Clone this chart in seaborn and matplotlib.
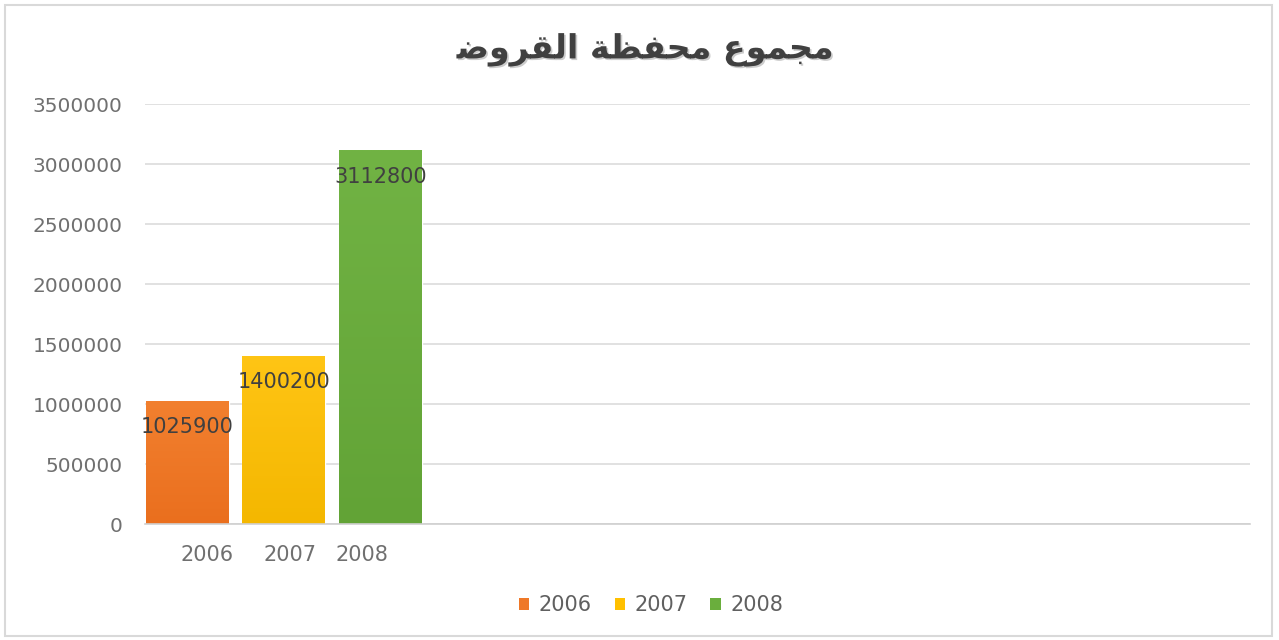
import numpy as np
import pandas as pd
import matplotlib
matplotlib.use("Agg")
import matplotlib.pyplot as plt
import seaborn as sns
from matplotlib import patheffects
from matplotlib.colors import LinearSegmentedColormap
from matplotlib.patches import Rectangle

# ---- data ----
years = ["2006", "2007", "2008"]
values = [1025900, 1400200, 3112800]
yticks = [0, 500000, 1000000, 1500000, 2000000, 2500000, 3000000, 3500000]
# visual-order (pre-shaped) Arabic title: "مجموع محفظة القروض"
title = "\uFEBF\uFEED\uFEAE\uFED8\uFEDF\uFE8D \uFE94\uFEC8\uFED4\uFEA4\uFEE3 \uFEC9\uFEEE\uFEE4\uFEA0\uFEE3"

# ---- styles ----
base_colors = ["#EF7828", "#FFC000", "#6AAE3D"]
top_colors = ["#F2802F", "#FFC515", "#71B344"]
bottom_colors = ["#EA6F1E", "#F4B700", "#62A336"]
tick_offsets = [0.2, 1.06, 1.81]

sns.set_theme(style="white")
plt.rcParams['font.family'] = ['DejaVu Sans']

fig = plt.figure(figsize=(12.79, 6.4), dpi=100)
ax = fig.add_axes([145 / 1279, 1 - 524 / 640, (1250 - 145) / 1279, 420 / 640])

df = pd.DataFrame({"year": years, "value": values})
sns.barplot(data=df, x="year", y="value", hue="year", palette=base_colors,
            width=0.86, dodge=False, legend=False, saturation=1, ax=ax,
            order=years, hue_order=years)

# gradients on bars
for i, patch in enumerate(ax.patches):
    x0, y0 = patch.get_x(), patch.get_y()
    w, h = patch.get_width(), patch.get_height()
    if h <= 0:
        continue
    cmap = LinearSegmentedColormap.from_list(f"g{i}", [bottom_colors[i], top_colors[i]])
    grad = np.linspace(0, 1, 256).reshape(-1, 1)
    im = ax.imshow(grad, cmap=cmap, origin="lower", aspect="auto",
                   extent=[x0, x0 + w, y0, y0 + h], zorder=patch.get_zorder() + 0.1)
    im.set_clip_path(patch)
ax.set_xlim(-0.44, 11.01)
ax.set_ylim(0, 3500000)
ax.set_aspect("auto")

# data labels
for i, v in enumerate(values):
    ax.annotate(f"{v}", xy=(i, v), xytext=(0, -19), textcoords="offset points",
                ha="center", va="center", fontsize=15, color="#404040", zorder=5)

# axes styling
ax.set_yticks(yticks)
ax.set_yticklabels([str(t) for t in yticks])
ax.set_xticks(tick_offsets)
ax.set_xticklabels(years)
ax.tick_params(axis="y", length=0, pad=16, labelsize=14.5, labelcolor="#707070")
ax.tick_params(axis="x", length=0, pad=15, labelsize=15, labelcolor="#707070")
ax.set_xlabel("")
ax.set_ylabel("")
ax.yaxis.grid(True, color="#DCDCDC", lw=1.2)
ax.set_axisbelow(True)
for s in ["left", "right", "top"]:
    ax.spines[s].set_visible(False)
ax.spines["bottom"].set_color("#D0D0D0")
ax.spines["bottom"].set_linewidth(1.2)

# title
fig.text(646 / 1279, 1 - 50 / 640, title, ha="center", va="center",
         fontsize=24, color="#404040", fontweight="bold",
         path_effects=[patheffects.withSimplePatchShadow(offset=(1.2, -1.2),
                                                        shadow_rgbFace="#000000", alpha=0.2)])

# legend
handles = [Rectangle((0, 0), 1, 1, facecolor=c, edgecolor="none") for c in base_colors]
fig.legend(handles, years, loc="center", bbox_to_anchor=(651 / 1279, 1 - 605 / 640),
           ncol=3, frameon=False, fontsize=15, handlelength=0.5, handleheight=0.5,
           handletextpad=0.45, columnspacing=1.1, labelcolor="#606060")

# outer border
fig.patches.append(Rectangle((5 / 1279, 4 / 640), 1267 / 1279, 631 / 640,
                             transform=fig.transFigure, fill=False,
                             edgecolor="#D9D9D9", lw=1.5))

fig.savefig("out.png", dpi=100)
